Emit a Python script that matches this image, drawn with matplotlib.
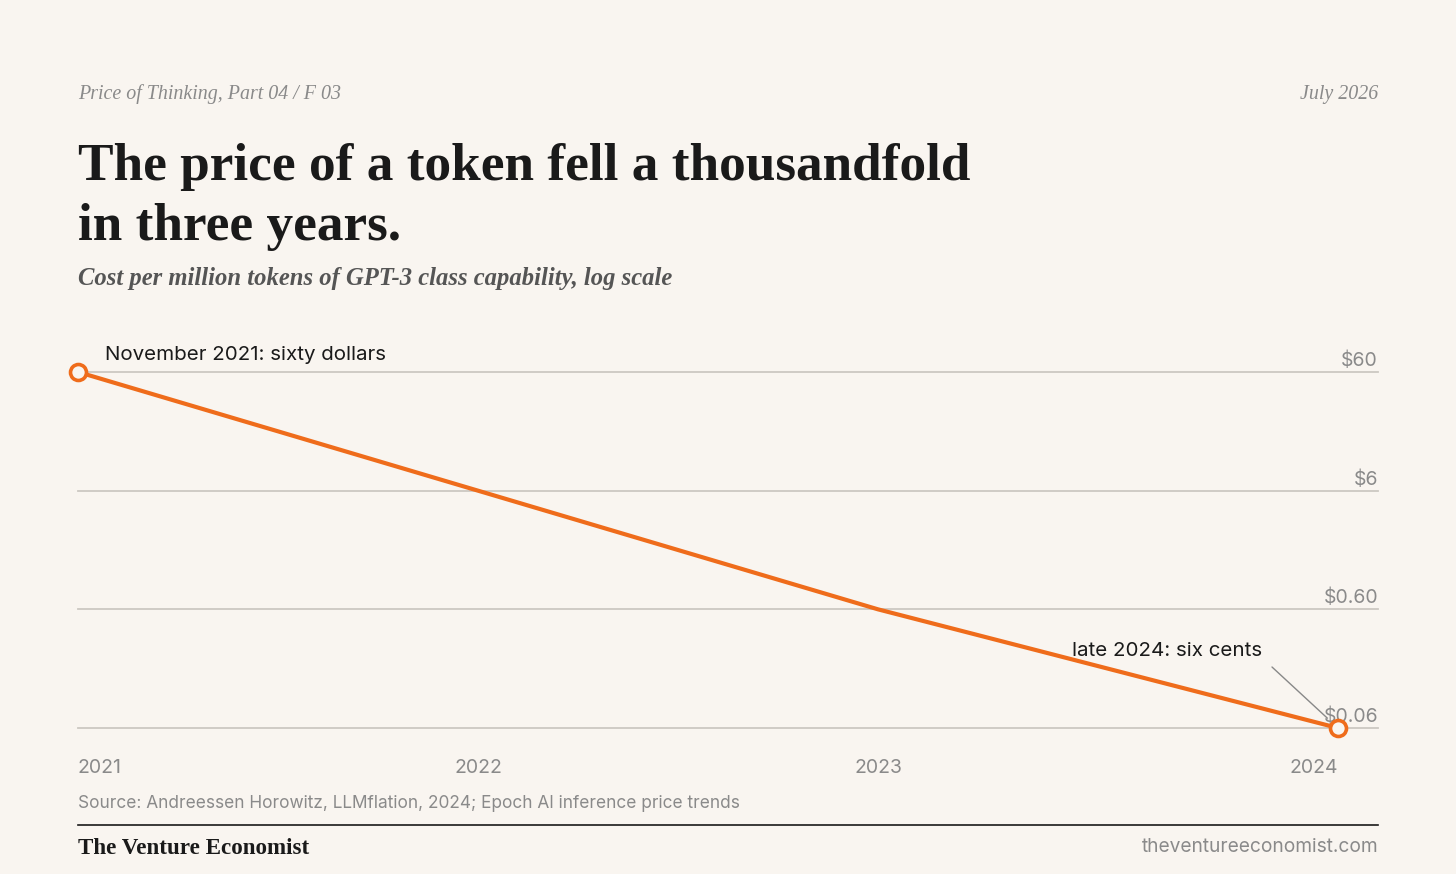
import matplotlib
matplotlib.use("Agg")
import matplotlib.pyplot as plt

# ---- data ----
years = [2021.0, 2022.0, 2023.0, 2024.15]
price = [60, 6, 0.6, 0.06]
ytick_vals = [60, 6, 0.6, 0.06]
ytick_labels = ["$60", "$6", "$0.60", "$0.06"]
xtick_labels = ["2021", "2022", "2023", "2024"]
xtick_pos = [2021.0, 2022.0, 2023.0, 2024.15]
start_note = "November 2021: sixty dollars"
end_note = "late 2024: six cents"

BG = "#F9F5F0"
ORANGE = "#EF6C1B"
GRAY = "#8A8A8A"
GRID = "#CCC8C2"
INK = "#1A1A1A"
SANS = ["Inter", "DejaVu Sans"]
SERIF = ["Liberation Serif", "DejaVu Serif"]

W, H = 1456, 874
fig = plt.figure(figsize=(W / 100, H / 100), dpi=100, facecolor=BG)


def fx(x):
    return x / W


def fy(y):
    return 1 - y / H


# axes spanning x 78..1378, y 372..728 (pixels from top)
ax = fig.add_axes([fx(78), fy(728), fx(1378) - fx(78), fy(372) - fy(728)])
ax.set_facecolor(BG)
ax.set_yscale("log")
ax.set_xlim(2021.0, 2024.25)
ax.set_ylim(0.06, 60)
for s in ax.spines.values():
    s.set_visible(False)
ax.set_xticks([])
ax.set_yticks([])
ax.minorticks_off()

for v, lab in zip(ytick_vals, ytick_labels):
    ax.axhline(v, color=GRID, lw=1.3, zorder=1, clip_on=False)
    ax.annotate(lab, xy=(1.0, v), xycoords=("axes fraction", "data"),
                xytext=(0, 2), textcoords="offset pixels",
                ha="right", va="bottom", fontsize=14, color=GRAY,
                family=SANS, zorder=2)

ax.plot(years, price, color=ORANGE, lw=3.0, solid_capstyle="round",
        zorder=3, clip_on=False)
ax.plot([years[0], years[-1]], [price[0], price[-1]], linestyle="none",
        marker="o", ms=11.5, mfc=BG, mec=ORANGE, mew=2.6, zorder=4,
        clip_on=False)

# x labels
for i, (p, lab) in enumerate(zip(xtick_pos, xtick_labels)):
    ha = "left" if i == 0 else ("right" if i == len(xtick_labels) - 1 else "center")
    ax.annotate(lab, xy=(p, 0.06), xycoords="data", xytext=(0, -40),
                textcoords="offset pixels", ha=ha, va="center",
                fontsize=14, color=GRAY, family=SANS)

# annotations
ax.annotate(start_note, xy=(years[0], price[0]), xytext=(27, 17),
            textcoords="offset pixels", ha="left", va="center",
            fontsize=14.8, color=INK, family=SANS)
ax.annotate(end_note, xy=(years[-1], price[-1]), xytext=(-266, 77),
            textcoords="offset pixels", ha="left", va="center",
            fontsize=14.8, color=INK, family=SANS)
ax.annotate("", xy=(years[-1], price[-1]), xytext=(-66, 61),
            textcoords="offset pixels",
            arrowprops=dict(arrowstyle="-", color="#888888", lw=1.0,
                            shrinkA=0, shrinkB=10.4))

# header texts
fig.text(fx(78), fy(99), "Price of Thinking, Part 04 / F 03", ha="left",
         va="baseline", fontsize=14.4, style="italic", color=GRAY, family=SERIF)
fig.text(fx(1378), fy(99), "July 2026", ha="right", va="baseline",
         fontsize=14.4, style="italic", color=GRAY, family=SERIF)
fig.text(fx(78), fy(180), "The price of a token fell a thousandfold",
         ha="left", va="baseline", fontsize=38.3, weight="bold", color=INK,
         family=SERIF)
fig.text(fx(78), fy(240), "in three years.", ha="left", va="baseline",
         fontsize=38.3, weight="bold", color=INK, family=SERIF)
fig.text(fx(78), fy(285),
         "Cost per million tokens of GPT-3 class capability, log scale",
         ha="left", va="baseline", fontsize=17.7, weight="bold", style="italic",
         color="#555555", family=SERIF)

# footer
fig.text(fx(78), fy(803),
         "Source: Andreessen Horowitz, LLMflation, 2024; Epoch AI inference price trends",
         ha="left", va="center", fontsize=12.45, color=GRAY, family=SANS)
fig.add_artist(plt.Line2D([fx(78), fx(1378)], [fy(824.5), fy(824.5)],
                          color=INK, lw=1.2, transform=fig.transFigure))
fig.text(fx(78), fy(854), "The Venture Economist", ha="left", va="baseline",
         fontsize=16.6, weight="bold", color=INK, family=SERIF)
fig.text(fx(1378), fy(847), "theventureeconomist.com", ha="right",
         va="center", fontsize=13.8, color=GRAY, family=SANS)

fig.savefig("out.png", dpi=100, facecolor=BG)
